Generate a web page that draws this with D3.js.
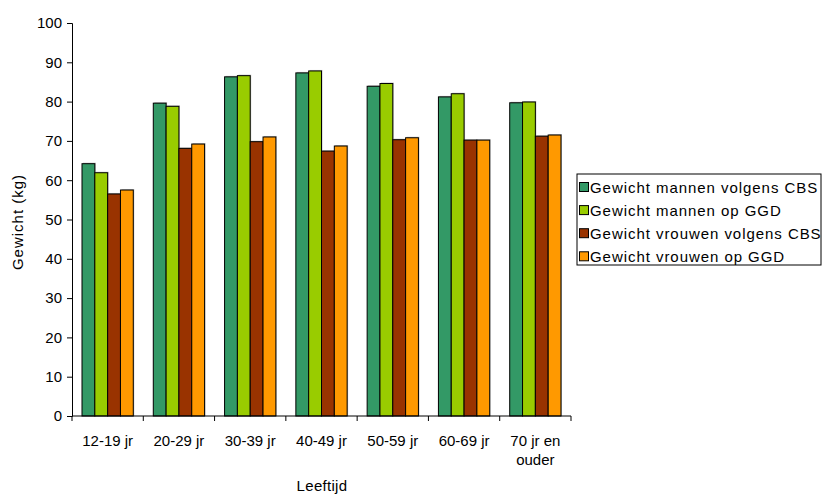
<!DOCTYPE html>
<html>
<head>
<meta charset="utf-8">
<script src="https://cdn.jsdelivr.net/npm/d3@7"></script>
<style>
  html, body { margin: 0; padding: 0; background: #fff; }
  svg { display: block; }
  text { font-family: "Liberation Sans", Arial, sans-serif; fill: #000; }
</style>
</head>
<body>
<svg id="chart" width="822" height="494"></svg>
<script>
// Age groups (second line of a label after "|")
const categories = ["12-19 jr", "20-29 jr", "30-39 jr", "40-49 jr", "50-59 jr", "60-69 jr", "70 jr en|ouder"];
const seriesNames = [
  "Gewicht mannen volgens CBS",
  "Gewicht mannen op GGD",
  "Gewicht vrouwen volgens CBS",
  "Gewicht vrouwen op GGD"
];
const mannenCBS  = [64.2, 79.6, 86.3, 87.3, 83.9, 81.2, 79.7];
const mannenGGD  = [61.9, 78.8, 86.6, 87.8, 84.6, 82.0, 79.9];
const vrouwenCBS = [56.5, 68.1, 69.8, 67.4, 70.3, 70.2, 71.2];
const vrouwenGGD = [57.5, 69.2, 71.0, 68.7, 70.8, 70.2, 71.5];
const yTicks = [0, 10, 20, 30, 40, 50, 60, 70, 80, 90, 100];
const colors = ["#339966", "#99CC00", "#993300", "#FF9900"];

const series = [mannenCBS, mannenGGD, vrouwenCBS, vrouwenGGD];

const svg = d3.select("#chart");
const margin = { left: 72, right: 251, top: 23, bottom: 78 };
const W = 822, H = 494;
const plotW = W - margin.left - margin.right;
const plotH = H - margin.top - margin.bottom;

const g = svg.append("g").attr("transform", `translate(${margin.left},${margin.top})`);

const x0 = d3.scaleBand().domain(categories).range([0, plotW]).paddingInner(0).paddingOuter(0);
const x1 = d3.scaleBand().domain(d3.range(series.length)).range([0, x0.bandwidth()]).paddingOuter(0.78).paddingInner(0);
const y = d3.scaleLinear().domain([0, 100]).range([plotH, 0]);

// Bars
const groups = g.selectAll(".grp").data(categories).join("g")
  .attr("class", "grp")
  .attr("transform", d => `translate(${x0(d)},0)`);

groups.each(function (cat, ci) {
  const sel = d3.select(this);
  series.forEach((vals, si) => {
    const bx = x1(si), bw = x1.bandwidth();
    const by = y(vals[ci]), bh = plotH - y(vals[ci]);
    // soft shadow
    sel.append("rect")
      .attr("x", bx + 1).attr("y", by - 1)
      .attr("width", bw).attr("height", bh + 1)
      .attr("fill", "#9a9a9a").attr("opacity", 0.6);
    sel.append("rect")
      .attr("x", bx).attr("y", by)
      .attr("width", bw).attr("height", bh)
      .attr("fill", colors[si])
      .attr("stroke", "#000").attr("stroke-width", 1);
  });
});

// Y axis
const yAxis = g.append("g")
  .call(d3.axisLeft(y).tickValues(yTicks).tickSize(5).tickPadding(5).tickFormat(d3.format("d")));
yAxis.selectAll("text").style("font-size", "15px").attr("font-family", null);
yAxis.selectAll("path, line").attr("stroke", "#000");

// X axis: ticks at the band boundaries
const boundaries = categories.map(c => x0(c)).concat([plotW]);
const xAxis = g.append("g").attr("transform", `translate(0,${plotH})`);
xAxis.append("line").attr("x1", 0).attr("x2", plotW).attr("stroke", "#000");
xAxis.selectAll(".tk").data(boundaries).join("line")
  .attr("class", "tk")
  .attr("x1", d => d).attr("x2", d => d)
  .attr("y1", 0).attr("y2", 5)
  .attr("stroke", "#000");
xAxis.selectAll(".lbl").data(categories).join("text")
  .attr("class", "lbl")
  .attr("text-anchor", "middle")
  .attr("x", d => x0(d) + x0.bandwidth() / 2)
  .style("font-size", "15px")
  .each(function (d) {
    const lines = d.split("|");
    lines.forEach((ln, i) => {
      d3.select(this).append("tspan")
        .attr("x", x0(d) + x0.bandwidth() / 2)
        .attr("y", 30 + i * 19)
        .text(ln);
    });
  });

// Axis titles
svg.append("text")
  .attr("x", 322).attr("y", 491)
  .attr("text-anchor", "middle")
  .style("font-size", "15px")
  .style("letter-spacing", "0.3px")
  .text("Leeftijd");
svg.append("text")
  .attr("transform", "translate(23,222) rotate(-90)")
  .attr("text-anchor", "middle")
  .style("font-size", "15px")
  .style("letter-spacing", "1px")
  .text("Gewicht (kg)");

// Legend
const lg = svg.append("g").attr("transform", "translate(577,174)");
lg.append("rect").attr("x", 0).attr("y", 0).attr("width", 244).attr("height", 91)
  .attr("fill", "#fff").attr("stroke", "#000");
seriesNames.forEach((name, i) => {
  const cy = 13 + i * 23.1;
  lg.append("rect").attr("x", 2.5).attr("y", cy - 4.5).attr("width", 9).attr("height", 9)
    .attr("fill", colors[i]).attr("stroke", "#000");
  lg.append("text").attr("x", 13).attr("y", cy + 5.5)
    .style("font-size", "15px")
    .style("letter-spacing", "0.95px")
    .text(name);
});
</script>
</body>
</html>
